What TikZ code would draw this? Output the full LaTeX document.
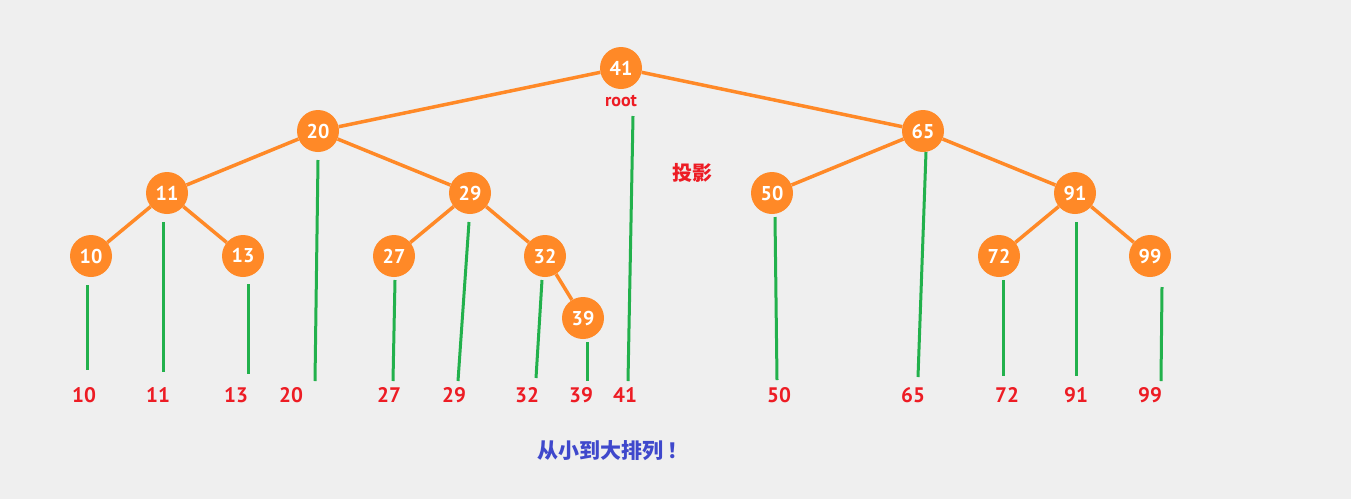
\documentclass[tikz,border=0pt]{standalone}
\usepackage{fontspec}
\setmainfont{PT Sans}
\newfontfamily\cjk{Noto Sans CJK SC}
\usepackage{xcolor}
\usetikzlibrary{positioning}
\definecolor{bgGray}{RGB}{239, 239, 239}
\definecolor{treeOrange}{RGB}{255, 137, 39}
\definecolor{projGreen}{RGB}{34, 177, 76}
\definecolor{labelRed}{RGB}{237, 28, 36}
\definecolor{noteBlue}{RGB}{63, 72, 204}

\begin{document}
\begin{tikzpicture}[
    x=1pt, y=-1pt,
    keynode/.style={circle, fill=treeOrange, inner sep=0pt, minimum size=42pt, text=white, font=\fontsize{20}{22}\selectfont\bfseries},
    branch/.style={draw=treeOrange, line width=3.5pt},
    proj/.style={draw=projGreen, line width=3pt},
    sortlabel/.style={text=labelRed, font=\fontsize{21}{23}\selectfont\bfseries}
  ]
    \fill[bgGray] (0,0) rectangle (1351,499);
    \useasboundingbox (0,0) rectangle (1351,499);

    % tree
    \node[keynode] (k41) at (621,68) {41};
    \node[keynode] (k20) at (318,131) {20};
    \node[keynode] (k65) at (923,131) {65};
    \node[keynode] (k11) at (167,193) {11};
    \node[keynode] (k29) at (470,193) {29};
    \node[keynode] (k50) at (772,193) {50};
    \node[keynode] (k91) at (1075,193) {91};
    \node[keynode] (k10) at (91,256) {10};
    \node[keynode] (k13) at (243,256) {13};
    \node[keynode] (k27) at (394,256) {27};
    \node[keynode] (k32) at (545,256) {32};
    \node[keynode] (k72) at (999,256) {72};
    \node[keynode] (k99) at (1150,256) {99};
    \node[keynode] (k39) at (583,318) {39};

    \path[branch] (k41) -- (k20);
    \path[branch] (k41) -- (k65);
    \path[branch] (k20) -- (k11);
    \path[branch] (k20) -- (k29);
    \path[branch] (k11) -- (k10);
    \path[branch] (k11) -- (k13);
    \path[branch] (k29) -- (k27);
    \path[branch] (k29) -- (k32);
    \path[branch] (k32) -- (k39);
    \path[branch] (k65) -- (k50);
    \path[branch] (k65) -- (k91);
    \path[branch] (k91) -- (k72);
    \path[branch] (k91) -- (k99);

    \node[text=labelRed, font=\fontsize{18}{20}\selectfont\bfseries] (root) at (621,101) {root};
    \node[text=labelRed, font=\cjk\fontsize{20}{22}\selectfont\bfseries] (shadow) at (692,173) {投影};

    % projections
    \foreach \n/\xa/\ya/\xb/\yb in {10/87/285/87/370, 11/163/222/163/372, 13/248/284/248/374,
        20/318/160/315/381, 27/395/280/393/381, 29/469/222/458/381, 32/542/280/536/378,
        39/587/342/587/381, 41/633/116/628/381, 50/775/217/777/380, 65/926/152/918/377,
        72/1003/280/1003/376, 91/1076/222/1076/376, 99/1162/287/1161/381}{
      \coordinate (t\n) at (\xa,\ya);
      \coordinate (b\n) at (\xb,\yb);
      \path[proj] (t\n) -- (b\n);
    }

    % sorted keys
    \foreach \n/\xl in {10/84, 11/158, 13/236, 20/291, 27/389, 29/454, 32/527, 39/581,
        41/625, 50/779, 65/913, 72/1007, 91/1076, 99/1150}{
      \node[sortlabel] (s\n) at (\xl,395) {\n};
    }

    \node[text=noteBlue, font=\cjk\fontsize{21}{23}\selectfont\bfseries] (note) at (613,451) {从小到大排列\,！};
  \end{tikzpicture}
\end{document}
